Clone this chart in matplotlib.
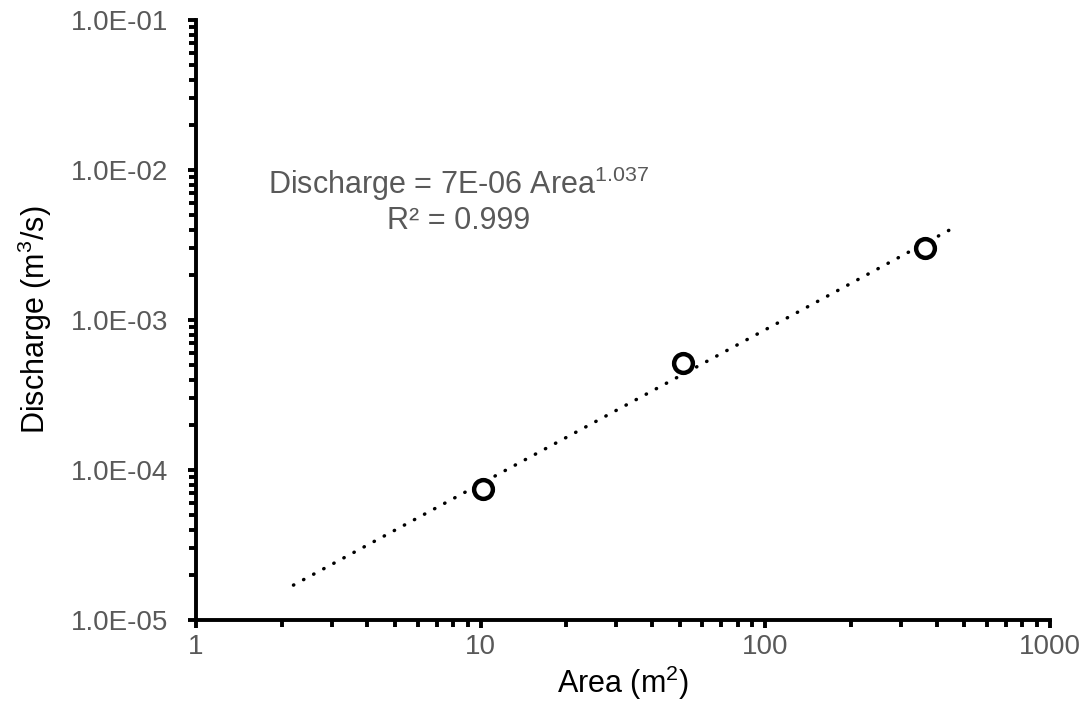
import numpy as np
import matplotlib.pyplot as plt
from matplotlib.ticker import FuncFormatter, LogLocator, NullFormatter

plt.rcParams['font.family'] = ['Liberation Sans', 'DejaVu Sans']
plt.rcParams['mathtext.fontset'] = 'custom'
plt.rcParams['mathtext.rm'] = 'Liberation Sans'
plt.rcParams['mathtext.it'] = 'Liberation Sans'

# measured points
area = [10.2, 51.4, 364.0]
discharge = [7.5e-5, 5.2e-4, 3.0e-3]

# trendline range (Excel forecast)
fit_from = 2.2
fit_to = 460.0

gray = '#595959'

# power fit in log space
b, loga = np.polyfit(np.log10(area), np.log10(discharge), 1)
xfit = np.logspace(np.log10(fit_from), np.log10(fit_to), 100)
yfit = 10 ** loga * xfit ** b

fig = plt.figure(figsize=(10.92, 7.16), dpi=100)
ax = fig.add_axes([0.1795, 0.134, 0.782, 0.838])

ax.plot(xfit, yfit, color='black', lw=2.5, linestyle=(0, (0.1, 3.2)),
        dash_capstyle='round')
ax.plot(area, discharge, 'o', ms=13.5, mfc='white', mec='black', mew=3.2, zorder=3)

ax.set_xscale('log')
ax.set_yscale('log')
ax.set_xlim(1, 1000)
ax.set_ylim(1e-5, 1e-1)

ax.xaxis.set_major_locator(LogLocator(base=10, numticks=10))
ax.xaxis.set_minor_locator(LogLocator(base=10, subs=np.arange(2, 10), numticks=10))
ax.yaxis.set_major_locator(LogLocator(base=10, numticks=10))
ax.yaxis.set_minor_locator(LogLocator(base=10, subs=np.arange(2, 10), numticks=10))
ax.xaxis.set_major_formatter(FuncFormatter(lambda v, p: '%d' % round(v)))
ax.yaxis.set_major_formatter(FuncFormatter(lambda v, p: '%.1E' % v))
ax.xaxis.set_minor_formatter(NullFormatter())
ax.yaxis.set_minor_formatter(NullFormatter())

for s in ['top', 'right']:
    ax.spines[s].set_visible(False)
for s in ['left', 'bottom']:
    ax.spines[s].set_linewidth(2.8)
ax.tick_params(which='major', direction='out', width=2.8, length=6,
               labelsize=20, labelcolor=gray)
ax.tick_params(which='minor', direction='out', width=2.8, length=5)
ax.tick_params(axis='y', which='major', pad=14)
ax.tick_params(axis='x', which='major', pad=4)

ax.set_xlabel('Area (m$^2$)', fontsize=22, labelpad=3)
ax.set_ylabel('Discharge (m$^3$/s)', fontsize=22, labelpad=12)

ax.text(0.0843, 0.727, 'Discharge = 7E-06 Area$^{1.037}$', transform=ax.transAxes,
        fontsize=22, color=gray, ha='left', va='center')
ax.text(0.224, 0.665, 'R² = 0.999', transform=ax.transAxes,
        fontsize=22, color=gray, ha='left', va='center')

fig.savefig('out.png', dpi=100)
